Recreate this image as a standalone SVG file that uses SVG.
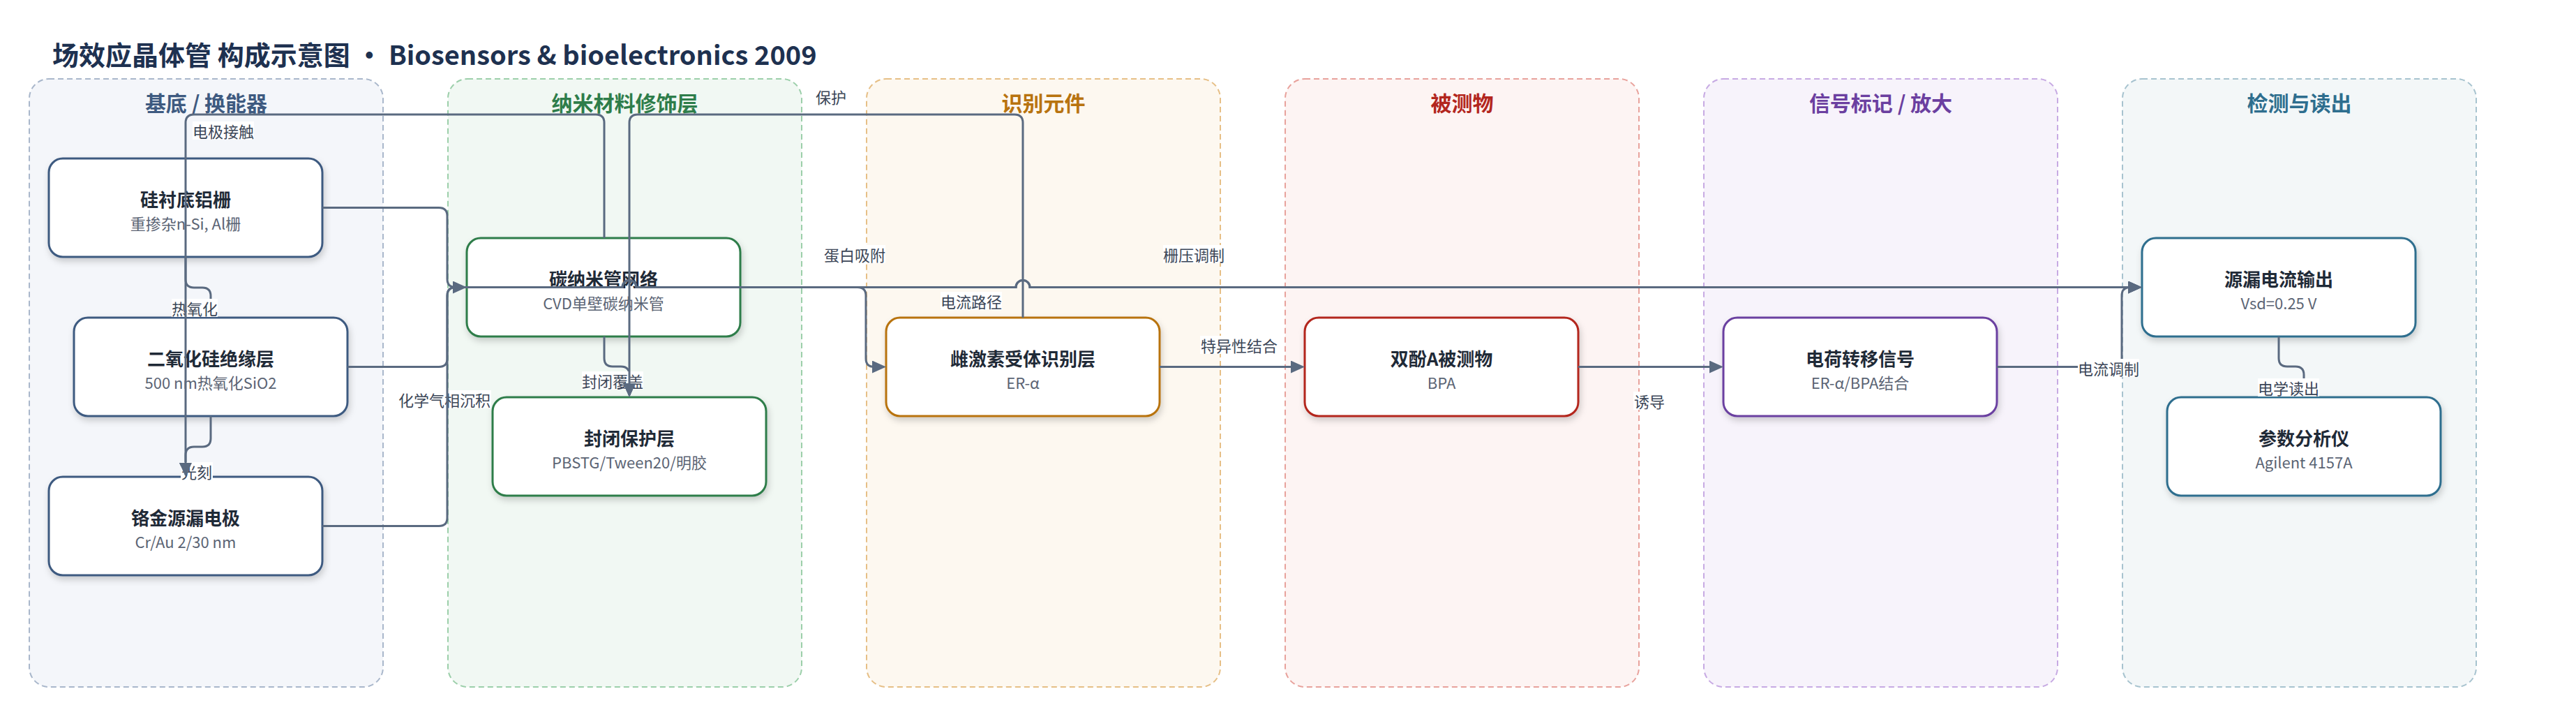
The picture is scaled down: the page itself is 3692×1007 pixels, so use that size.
<svg xmlns="http://www.w3.org/2000/svg" width="3692" height="1007" viewBox="0 0 3692 1007" font-family="'Noto Sans CJK SC', 'Noto Sans', sans-serif">
<defs>
<style>
.grp{stroke-width:2;stroke-dasharray:8 5}
.gt{font-weight:700;font-size:30px;text-anchor:middle;dominant-baseline:central}
.nr{fill:#fff;stroke-width:3;filter:url(#sh)}
.nt{font-weight:700;font-size:26px;fill:#1f2a37;text-anchor:middle;dominant-baseline:central}
.ns{font-size:22px;fill:#5b6474;text-anchor:middle;dominant-baseline:central}
.edge{fill:none;stroke:#5a6a80;stroke-width:3;marker-end:url(#arr)}
.lbg{fill:#fff}
.lt{font-size:22px;fill:#3b4657;text-anchor:middle;dominant-baseline:central}
</style>
<marker id="arr" viewBox="0 0 20 18" refX="17" refY="9" markerWidth="20" markerHeight="18" markerUnits="userSpaceOnUse" orient="auto"><path d="M0,0 L20,9 L0,18 z" fill="#5a6a80"/></marker>
<filter id="sh" x="-10%" y="-20%" width="120%" height="150%"><feDropShadow dx="2" dy="5" stdDeviation="5" flood-color="#000" flood-opacity="0.18"/></filter>
</defs>
<rect width="3692" height="1007" fill="#fff"/>
<text x="75" y="76" font-size="38" font-weight="700" fill="#1e3150" dominant-baseline="central">场效应晶体管 构成示意图 · Biosensors &amp; bioelectronics 2009</text>

<g id="group-substrate"><rect class="grp" x="42" y="113" width="507" height="871" rx="28" fill="#f4f6fa" stroke="#a9b7cb"/><text class="gt" x="295.5" y="146" fill="#3e5a80">基底 / 换能器</text></g>
<g id="group-nano"><rect class="grp" x="642" y="113" width="507" height="871" rx="28" fill="#f1f8f3" stroke="#9ccfaa"/><text class="gt" x="895.5" y="146" fill="#2e7d4a">纳米材料修饰层</text></g>
<g id="group-recognition"><rect class="grp" x="1242" y="113" width="507" height="871" rx="28" fill="#fdf8f0" stroke="#e6bf86"/><text class="gt" x="1495.5" y="146" fill="#b8730f">识别元件</text></g>
<g id="group-analyte"><rect class="grp" x="1842" y="113" width="507" height="871" rx="28" fill="#fdf4f3" stroke="#e8a29c"/><text class="gt" x="2095.5" y="146" fill="#b3261e">被测物</text></g>
<g id="group-signal"><rect class="grp" x="2442" y="113" width="507" height="871" rx="28" fill="#f7f3fb" stroke="#c7aae3"/><text class="gt" x="2695.5" y="146" fill="#6b3fa0">信号标记 / 放大</text></g>
<g id="group-readout"><rect class="grp" x="3042" y="113" width="507" height="871" rx="28" fill="#f3f7f8" stroke="#a7c3cf"/><text class="gt" x="3295.5" y="146" fill="#2e6e8e">检测与读出</text></g>

<g id="node-si-gate"><rect class="nr" x="70" y="227" width="392" height="141" rx="20" stroke="#3e5a80"/><text class="nt" x="266" y="284.5">硅衬底铝栅</text><text class="ns" x="266" y="318.5">重掺杂n-Si, Al栅</text></g>
<g id="node-sio2"><rect class="nr" x="106" y="455" width="392" height="141" rx="20" stroke="#3e5a80"/><text class="nt" x="302" y="512.5">二氧化硅绝缘层</text><text class="ns" x="302" y="546.5">500 nm热氧化SiO2</text></g>
<g id="node-electrode"><rect class="nr" x="70" y="683" width="392" height="141" rx="20" stroke="#3e5a80"/><text class="nt" x="266" y="740.5">铬金源漏电极</text><text class="ns" x="266" y="774.5">Cr/Au 2/30 nm</text></g>
<g id="node-cnt"><rect class="nr" x="669" y="341" width="392" height="141" rx="20" stroke="#2e7d4a"/><text class="nt" x="865" y="398.5">碳纳米管网络</text><text class="ns" x="865" y="432.5">CVD单壁碳纳米管</text></g>
<g id="node-block"><rect class="nr" x="706" y="569" width="392" height="141" rx="20" stroke="#2e7d4a"/><text class="nt" x="902" y="626.5">封闭保护层</text><text class="ns" x="902" y="660.5">PBSTG/Tween20/明胶</text></g>
<g id="node-receptor"><rect class="nr" x="1270" y="455" width="392" height="141" rx="20" stroke="#b8730f"/><text class="nt" x="1466" y="512.5">雌激素受体识别层</text><text class="ns" x="1466" y="546.5">ER-α</text></g>
<g id="node-bpa"><rect class="nr" x="1870" y="455" width="392" height="141" rx="20" stroke="#b3261e"/><text class="nt" x="2066" y="512.5">双酚A被测物</text><text class="ns" x="2066" y="546.5">BPA</text></g>
<g id="node-charge"><rect class="nr" x="2470" y="455" width="392" height="141" rx="20" stroke="#6b3fa0"/><text class="nt" x="2666" y="512.5">电荷转移信号</text><text class="ns" x="2666" y="546.5">ER-α/BPA结合</text></g>
<g id="node-current"><rect class="nr" x="3070" y="341" width="392" height="141" rx="20" stroke="#2e6e8e"/><text class="nt" x="3266" y="398.5">源漏电流输出</text><text class="ns" x="3266" y="432.5">Vsd=0.25 V</text></g>
<g id="node-analyzer"><rect class="nr" x="3106" y="569" width="392" height="141" rx="20" stroke="#2e6e8e"/><text class="nt" x="3302" y="626.5">参数分析仪</text><text class="ns" x="3302" y="660.5">Agilent 4157A</text></g>

<g id="connectors">
<g id="e-oxidation"><path class="edge" d="M266,368 V400 Q266,412 278,412 H290 Q302,412 302,424 V452"/><rect class="lbg" x="246" y="428" width="66" height="26"/><text class="lt" x="279" y="441">热氧化</text></g>
<g id="e-litho"><path class="edge" d="M302,596 V628 Q302,640 290,640 H278 Q266,640 266,652 V680"/><rect class="lbg" x="259" y="662" width="46" height="26"/><text class="lt" x="282" y="675">光刻</text></g>
<g id="e-cover"><path class="edge" d="M866,482 V513 Q866,525 878,525 H890 Q902,525 902,537 V566"/><rect class="lbg" x="834" y="532" width="88" height="26"/><text class="lt" x="878" y="545">封闭覆盖</text></g>
<g id="e-cvd"><path class="edge" d="M498,525.5 H629 Q641,525.5 641,513.5 V423.5 Q641,411.5 653,411.5 H666"/><rect class="lbg" x="570" y="559" width="134" height="26"/><text class="lt" x="637" y="572">化学气相沉积</text></g>
<g id="e-readout"><path class="edge" d="M3266,482 V513 Q3266,525 3278,525 H3290 Q3302,525 3302,537 V566"/><rect class="lbg" x="3236" y="542" width="88" height="26"/><text class="lt" x="3280" y="555">电学读出</text></g>
<g id="e-modulate"><path class="edge" d="M2862,525.5 H3029 Q3041,525.5 3041,513.5 V423.5 Q3041,411.5 3053,411.5 H3067"/><rect class="lbg" x="2978" y="514" width="88" height="26"/><text class="lt" x="3022" y="527">电流调制</text></g>
<g id="e-binding"><path class="edge" d="M1662,525.5 H1867"/><rect class="lbg" x="1720" y="481" width="112" height="26"/><text class="lt" x="1776" y="494">特异性结合</text></g>
<g id="e-induce"><path class="edge" d="M2262,525.5 H2467"/><rect class="lbg" x="2341" y="561" width="46" height="26"/><text class="lt" x="2364" y="574">诱导</text></g>
<g id="e-adsorb"><path class="edge" d="M1062,411.5 H1229 Q1241,411.5 1241,423.5 V513.5 Q1241,525.5 1253,525.5 H1267"/><rect class="lbg" x="1181" y="351" width="88" height="26"/><text class="lt" x="1225" y="364">蛋白吸附</text></g>
<g id="e-gate"><path class="edge" d="M462,297.5 H629 Q641,297.5 641,309.5 V399.5 Q641,411.5 653,411.5 H892 a10,10 0 0 1 20,0 H1456 a10,10 0 0 1 20,0 H3067"/><rect class="lbg" x="1667" y="351" width="88" height="26"/><text class="lt" x="1711" y="364">栅压调制</text></g>
<g id="e-path"><path class="edge" d="M462,753.5 H629 Q641,753.5 641,741.5 V423.5 Q641,411.5 653,411.5 H892 a10,10 0 0 1 20,0 H1456 a10,10 0 0 1 20,0 H3067"/><rect class="lbg" x="1348" y="418" width="88" height="26"/><text class="lt" x="1392" y="431">电流路径</text></g>
<g id="e-contact"><path class="edge" d="M866,341 V176 Q866,164 854,164 H278 Q266,164 266,176 V680"/><rect class="lbg" x="276" y="174" width="88" height="26"/><text class="lt" x="320" y="187">电极接触</text></g>
<g id="e-protect"><path class="edge" d="M1466,455 V176 Q1466,164 1454,164 H914 Q902,164 902,176 V566"/><text class="lt" x="1191" y="138">保护</text></g>
</g>
</svg>
